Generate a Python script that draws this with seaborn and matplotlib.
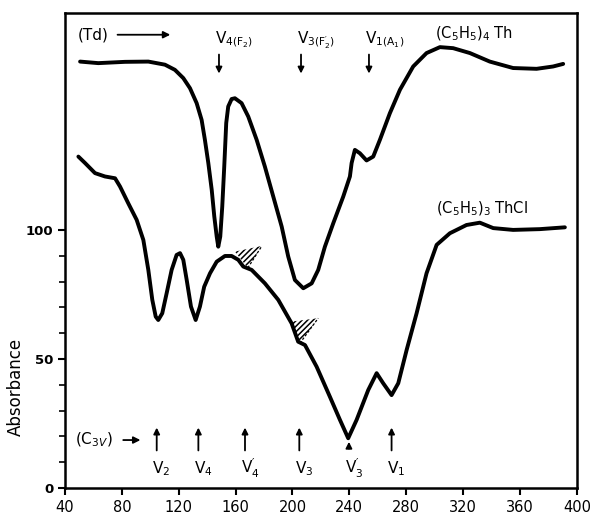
import matplotlib
matplotlib.use("Agg")
import matplotlib.pyplot as plt
import seaborn as sns
import pandas as pd
import numpy as np

# (C5H5)4 Th spectrum
th_x = [50.6, 63.4, 82.2, 98.6, 110.3, 117.3, 123.2, 127.9, 132.6, 136.1, 138.4, 140.8,
        143.2, 145.0, 146.7, 147.8, 149.2, 150.6, 152.0, 153.4, 154.8, 157.2, 159.5, 164.2,
        168.9, 174.8, 180.6, 186.5, 192.4, 197.0, 201.7, 207.6, 213.5, 218.1, 222.8, 228.7,
        235.7, 240.4, 241.6, 243.9, 247.4, 252.1, 256.8, 261.5, 268.5, 275.6, 284.9, 294.3,
        303.7, 313.0, 324.8, 338.8, 355.2, 371.7, 383.3, 390.4]
th_y = [165.2, 164.6, 165.1, 165.2, 164.0, 162.0, 158.8, 154.9, 149.1, 142.6, 134.9, 125.9,
        115.5, 105.2, 97.4, 93.5, 97.4, 109.0, 124.5, 141.4, 147.8, 150.7, 151.0, 149.1,
        143.9, 134.9, 124.5, 112.9, 101.3, 89.7, 80.6, 77.4, 79.3, 84.5, 93.5, 102.6,
        112.9, 120.7, 125.9, 131.0, 129.7, 126.9, 128.4, 134.9, 145.2, 154.3, 163.3, 168.5,
        170.8, 170.4, 168.5, 165.2, 162.7, 162.4, 163.3, 164.3]

# (C5H5)3 ThCl spectrum
thcl_x = [49.4, 54.1, 61.1, 68.1, 75.2, 78.7, 84.5, 90.4, 95.1, 98.6, 101.4, 103.8,
          105.6, 108.4, 111.5, 115.0, 118.5, 120.9, 123.2, 125.6, 128.6, 131.9, 134.9, 137.9,
          142.0, 146.7, 152.5, 157.2, 161.9, 165.4, 171.3, 180.6, 190.0, 199.4, 204.0, 208.8,
          217.0, 226.3, 233.4, 239.2, 245.1, 253.3, 259.2, 263.8, 269.7, 274.4, 280.3, 287.3,
          294.3, 301.4, 310.7, 322.4, 331.8, 341.2, 355.2, 374.0, 391.6]
thcl_y = [128.4, 125.9, 122.0, 120.7, 120.0, 116.8, 110.3, 103.9, 96.1, 84.5, 72.9, 66.4,
          65.1, 67.7, 75.5, 84.5, 90.3, 91.0, 88.4, 80.6, 70.3, 65.1, 70.3, 78.0,
          83.2, 87.7, 89.9, 89.9, 88.4, 85.8, 84.5, 79.3, 72.9, 63.8, 56.7, 55.4,
          47.0, 35.4, 26.4, 19.3, 26.4, 38.0, 44.5, 40.6, 36.0, 40.6, 53.5, 67.7,
          83.2, 94.2, 98.7, 101.9, 102.8, 100.7, 100.0, 100.3, 101.0]

# Td band assignments (downward arrows)
td_pos = [148.3, 206.0, 253.8]
td_labels = [r"$\mathregular{V_{4(F_2)}}$", r"$\mathregular{V_{3(F_2^{\prime})}}$",
             r"$\mathregular{V_{1(A_1)}}$"]
# C3v band assignments (upward arrows)
c3v_pos = [104.5, 133.8, 166.6, 204.8, 239.7, 269.7]
c3v_labels = [r"$\mathregular{V_2}$", r"$\mathregular{V_4}$", r"$\mathregular{V_4^{\prime}}$",
              r"$\mathregular{V_3}$", r"$\mathregular{V_3^{\prime}}$", r"$\mathregular{V_1}$"]
# hatched shoulder regions (x, y vertices)
hatch1_x = [159.5, 178.5, 168.6]
hatch1_y = [91.6, 93.8, 85.3]
hatch2_x = [199.4, 218.1, 205.2]
hatch2_y = [64.5, 65.8, 56.1]

x_ticks = [40, 80, 120, 160, 200, 240, 280, 320, 360, 400]
y_ticks = [0, 50, 100]

sns.set_style("ticks")
plt.rcParams["font.family"] = ["DejaVu Sans"]
for k in ["text.color", "axes.labelcolor", "xtick.color", "ytick.color", "axes.edgecolor"]:
    plt.rcParams[k] = "black"
plt.rcParams["hatch.linewidth"] = 1.1

fig = plt.figure(figsize=(5.91, 5.22), dpi=100)
ax = fig.add_axes([0.110, 0.065, 0.866, 0.910])

df1 = pd.DataFrame({"x": th_x, "y": th_y})
df2 = pd.DataFrame({"x": thcl_x, "y": thcl_y})
for df in (df1, df2):
    sns.lineplot(data=df, x="x", y="y", ax=ax, color="black", lw=2.8, sort=False,
                 solid_joinstyle="round", solid_capstyle="round")

for hx, hy in [(hatch1_x, hatch1_y), (hatch2_x, hatch2_y)]:
    ax.fill(hx, hy, facecolor="none", edgecolor="black", hatch="//////", lw=0)
    ax.plot([hx[2], hx[1]], [hy[2], hy[1]], color="black", lw=0.9, ls=(0, (2, 1.5)))

ax.set_xlim(40, 400)
ax.set_ylim(0, 184)
ax.set_xticks(x_ticks)
ax.set_xticklabels([str(v) for v in x_ticks], fontsize=10.5)
ax.set_yticks(np.arange(0, 101, 10), minor=True)
ax.set_yticks(y_ticks)
ax.set_yticklabels([str(v) for v in y_ticks], fontsize=9.5, fontweight="bold")
ax.tick_params(axis="both", which="major", length=5, width=1.5, direction="out")
ax.tick_params(axis="y", which="minor", length=4, width=1.2, direction="out")
ax.set_xlabel("")
ax.set_ylabel("Absorbance", fontsize=12)
ax.yaxis.set_label_coords(-0.078, 0.212)
for s in ax.spines.values():
    s.set_linewidth(1.8)

# annotations
ax.text(49, 175.6, "(Td)", fontsize=11, va="center", ha="left")
ax.annotate("", xy=(116, 175.6), xytext=(75, 175.6),
            arrowprops=dict(arrowstyle="-|>", color="black", lw=1.3, mutation_scale=10))
ax.text(47, 18.6, r"(C$_{3V}$)", fontsize=11, va="center", ha="left")
ax.annotate("", xy=(95, 18.6), xytext=(79, 18.6),
            arrowprops=dict(arrowstyle="-|>", color="black", lw=1.3, mutation_scale=10))

for xp, lab in zip(td_pos, td_labels):
    ax.text(xp - 3, 173.5, lab, fontsize=11, ha="left", va="center")
    ax.annotate("", xy=(xp, 159.5), xytext=(xp, 169),
                arrowprops=dict(arrowstyle="-|>", color="black", lw=1.3, mutation_scale=9))

for i, (xp, lab) in enumerate(zip(c3v_pos, c3v_labels)):
    top = 19.0 if i == 4 else 24.5
    bottom = 14.2 if i == 4 else 13.5
    ax.annotate("", xy=(xp, top), xytext=(xp, bottom),
                arrowprops=dict(arrowstyle="-|>", color="black", lw=1.3, mutation_scale=9))
    ax.text(xp - 3, 7.5, lab, fontsize=11, ha="left", va="center")

ax.text(300, 175.8, r"(C$_5$H$_5$)$_4$ Th", fontsize=10.5, ha="left", va="center")
ax.text(301, 108.0, r"(C$_5$H$_5$)$_3$ ThCl", fontsize=10.5, ha="left", va="center")

fig.savefig("out.png", dpi=100)
